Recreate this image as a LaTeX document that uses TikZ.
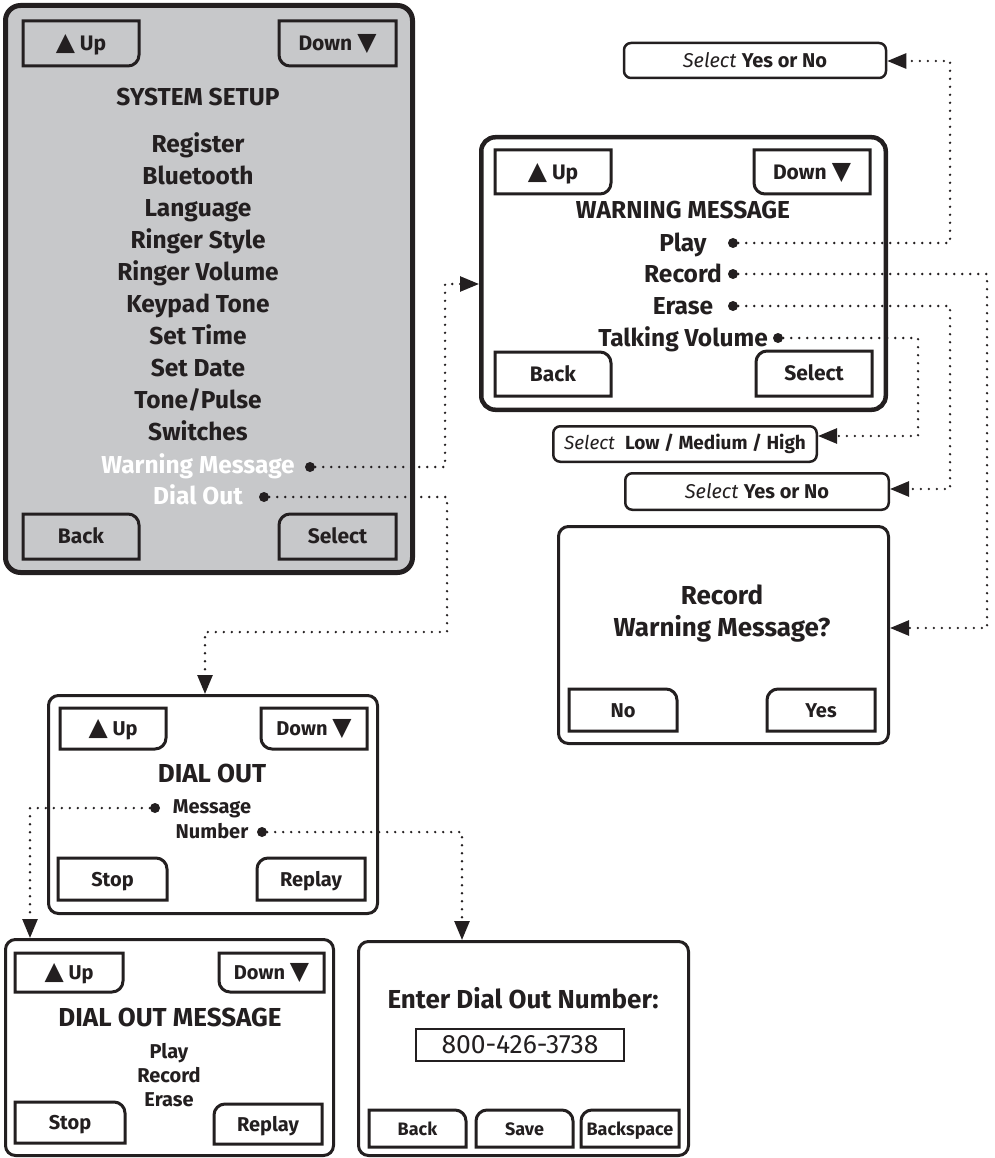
\documentclass[tikz,border=0pt]{standalone}
\usepackage{fontspec}
\setmainfont{Fira Sans}
\newfontfamily\symfont{DejaVu Sans}
\usetikzlibrary{arrows.meta,calc}
\definecolor{ink}{RGB}{35,31,32}
\definecolor{panelgray}{RGB}{199,200,202}
\newcommand\fsz[1]{\fontsize{#1}{#1}\selectfont}
\newcommand\upsym{{\symfont\fsz{25}▲}}
\newcommand\dnsym{{\symfont\fsz{25}▼}}
\def\rr{11}
% buttons: x1 y1 x2 y2 name text
\newcommand\btnBR[6]{\draw[btn] (#1,#2) -- (#3,#2) -- (#3,{#4-\rr}) .. controls (#3,{#4-0.45*\rr}) and ({#3-0.45*\rr},#4) .. ({#3-\rr},#4) -- (#1,#4) -- cycle;
  \node[btntxt] (#5) at ({(#1+#3)/2},{(#2+#4)/2}) {#6};}
\newcommand\btnBL[6]{\draw[btn] (#1,#2) -- (#3,#2) -- (#3,#4) -- ({#1+\rr},#4) .. controls ({#1+0.45*\rr},#4) and (#1,{#4-0.45*\rr}) .. (#1,{#4-\rr}) -- cycle;
  \node[btntxt] (#5) at ({(#1+#3)/2},{(#2+#4)/2}) {#6};}
\newcommand\btnTR[6]{\draw[btn] (#1,#4) -- (#1,#2) -- ({#3-\rr},#2) .. controls ({#3-0.45*\rr},#2) and (#3,{#2+0.45*\rr}) .. (#3,{#2+\rr}) -- (#3,#4) -- cycle;
  \node[btntxt] (#5) at ({(#1+#3)/2},{(#2+#4)/2}) {#6};}
\newcommand\btnTL[6]{\draw[btn] (#3,#4) -- (#3,#2) -- ({#1+\rr},#2) .. controls ({#1+0.45*\rr},#2) and (#1,{#2+0.45*\rr}) .. (#1,{#2+\rr}) -- (#1,#4) -- cycle;
  \node[btntxt] (#5) at ({(#1+#3)/2},{(#2+#4)/2}) {#6};}
\newcommand\btnTT[6]{\draw[btn] (#1,#4) -- (#1,{#2+\rr}) .. controls (#1,{#2+0.45*\rr}) and ({#1+0.45*\rr},#2) .. ({#1+\rr},#2) -- ({#3-\rr},#2) .. controls ({#3-0.45*\rr},#2) and (#3,{#2+0.45*\rr}) .. (#3,{#2+\rr}) -- (#3,#4) -- cycle;
  \node[btntxt] (#5) at ({(#1+#3)/2},{(#2+#4)/2}) {#6};}
\tikzset{
  panel/.style={draw=ink, line width=3pt, rounded corners=10pt, fill=white, inner sep=0pt},
  btn/.style={draw=ink, line width=3pt, line join=miter},
  btntxt/.style={inner sep=0pt, text height=14.5pt, text depth=0pt, text=ink, font=\bfseries\fsz{21}},
  lbl/.style={inner sep=0pt, text height=16.9pt, text depth=0pt, text=ink, font=\bfseries\fsz{24.5}},
  small/.style={lbl, text height=13.8pt, font=\bfseries\fsz{20}},
  big/.style={lbl, text height=17.9pt, font=\bfseries\fsz{26}},
  selbox/.style={draw=ink, line width=2.5pt, rounded corners=7pt, inner sep=0pt, text=ink, font=\fsz{20}},
  dotn/.style={circle, fill=ink, minimum size=10pt, inner sep=0pt},
  conn/.style={draw=ink, line width=2.6pt, line cap=round, dash pattern=on 0pt off 8pt,
    -{Triangle[length=19pt,width=15pt]}},
}
\begin{document}
\begin{tikzpicture}[x=1pt,y=-1pt]
\useasboundingbox (0,0) rectangle (994,1158);

% ---------- SYSTEM SETUP ----------
\node[panel, fill=panelgray, line width=5pt, rounded corners=15pt, minimum width=407, minimum height=567] (sys) at (209,289) {};
\btnBR{23}{21}{139}{66}{sysup}{\upsym\ Up}
\btnBL{279}{21}{396}{66}{sysdn}{Down \dnsym}
\btnTR{23}{514}{139}{559}{sysback}{Back}
\btnTL{279}{514}{396}{559}{syssel}{Select}
\node[lbl] (systitle) at (198,97) {SYSTEM SETUP};
\foreach \t/\yy/\n in {Register/144/s1, Bluetooth/176/s2, Language/208/s3, Ringer Style/240/s4,
  Ringer Volume/272/s5, Keypad Tone/304/s6, Set Time/336/s7, Set Date/368/s8,
  Tone\slash Pulse/400/s9, Switches/432/s10}
  \node[lbl] (\n) at (198,\yy) {\t};
\node[lbl, text=white] (swm) at (198,465) {Warning Message};
\node[lbl, text=white] (sdo) at (198,496) {Dial Out};
\node[dotn] (dwm) at (310,467) {};
\node[dotn] (ddo) at (264,497) {};

% ---------- WARNING MESSAGE ----------
\node[panel, line width=4.5pt, rounded corners=14pt, minimum width=404.5, minimum height=272.5] (wm) at (683.5,273.5) {};
\btnBR{495}{150}{611}{194}{wmup}{\upsym\ Up}
\btnBL{754}{150}{870}{194}{wmdn}{Down \dnsym}
\btnTR{495}{352}{611}{396}{wmback}{Back}
\btnTL{756}{351}{872}{396}{wmsel}{Select}
\node[lbl] (wmtitle) at (683,210) {WARNING MESSAGE};
\node[lbl] (wplay) at (683,243) {Play};
\node[lbl] (wrec) at (683,274) {Record};
\node[lbl] (wera) at (683,306) {Erase};
\node[lbl] (wtv) at (683,338) {Talking Volume};
\node[dotn] (dplay) at (733,243) {};
\node[dotn] (drec) at (733,274) {};
\node[dotn] (dera) at (733,306) {};
\node[dotn] (dtv) at (778,338) {};

% ---------- selection boxes ----------
\node[selbox, minimum width=262, minimum height=35] (sel1) at (755,60.5) {\textit{Select} \textbf{Yes or No}};
\node[selbox, font=\fsz{19}, minimum width=263.5, minimum height=35.5] (sel2) at (685,444) {\textit{Select}\ \ \textbf{Low / Medium / High}};
\node[selbox, minimum width=263.5, minimum height=36.5] (sel3) at (757,491.5) {\textit{Select} \textbf{Yes or No}};

% ---------- RECORD WARNING MESSAGE ----------
\node[panel, minimum width=330, minimum height=217] (rec) at (723.5,635) {};
\node[big] (rect1) at (722,596) {Record};
\node[big] (rect2) at (722,628) {Warning Message?};
\btnTR{569}{689}{677}{731}{recno}{\fsz{20}No}
\btnTL{767}{689}{875}{731}{recyes}{\fsz{20}Yes}

% ---------- DIAL OUT ----------
\node[panel, minimum width=329, minimum height=218] (do) at (213,804.5) {};
\btnBR{60}{708}{166}{749}{doup}{\fsz{20}\upsym\ Up}
\btnBL{261}{708}{367}{749}{dodn}{\fsz{20}Down \dnsym}
\btnTR{58}{858}{167}{900}{dostop}{\fsz{20}Stop}
\btnTL{257}{858}{365}{900}{doreplay}{\fsz{20}Replay}
\node[big] (dotitle) at (212,774) {DIAL OUT};
\node[small] (domsg) at (212,807) {Message};
\node[small] (donum) at (212,832) {Number};
\node[dotn] (dmsg) at (155,808) {};
\node[dotn] (dnum) at (262,832) {};

% ---------- DIAL OUT MESSAGE ----------
\node[panel, minimum width=328, minimum height=216] (dom) at (169.5,1047.5) {};
\btnBR{15}{953}{123}{992}{domup}{\fsz{20}\upsym\ Up}
\btnBL{219}{953}{324}{992}{domdn}{\fsz{20}Down \dnsym}
\btnTR{15}{1102}{125}{1143}{domstop}{\fsz{20}Stop}
\btnTL{214}{1104}{322}{1144}{domreplay}{\fsz{20}Replay}
\node[big] (domtitle) at (170,1018) {DIAL OUT MESSAGE};
\node[small] (domplay) at (169,1052) {Play};
\node[small] (domrec) at (169,1076) {Record};
\node[small] (domera) at (169,1100) {Erase};

% ---------- ENTER DIAL OUT NUMBER ----------
\node[panel, minimum width=330, minimum height=214] (edn) at (523.5,1048.5) {};
\node[big] (edntitle) at (523,1000) {Enter Dial Out Number:};
\node[draw=ink, line width=2pt, minimum width=208, minimum height=32, inner sep=0pt, text=ink, font=\fsz{26.5}] (ednnum) at (520,1045) {800-426-3738};
\btnTR{369}{1110}{466}{1147}{ednback}{\fsz{18}Back}
\btnTT{476}{1110}{573}{1147}{ednsave}{\fsz{18}Save}
\btnTL{581}{1110}{679}{1147}{ednbs}{\fsz{18}Backspace}

% ---------- connectors ----------
\coordinate (k1) at (445,467); \coordinate (k2) at (445,284);
\draw[conn] (dwm) -- (k1) -- (k2) -- (wm.west |- k2);
\coordinate (k3) at (447,497); \coordinate (k4) at (447,632); \coordinate (k5) at (205,632);
\draw[conn] (ddo) -- (k3) -- (k4) -- (k5) -- (do.north -| k5);
\coordinate (k6) at (950,243); \coordinate (k7) at (950,61);
\draw[conn] (dplay) -- (k6) -- (k7) -- (sel1.east |- k7);
\coordinate (k8) at (987,274); \coordinate (k9) at (987,628);
\draw[conn] (drec) -- (k8) -- (k9) -- (rec.east |- k9);
\coordinate (k10) at (950,306); \coordinate (k11) at (950,489);
\draw[conn] (dera) -- (k10) -- (k11) -- (sel3.east |- k11);
\coordinate (k12) at (918,338); \coordinate (k13) at (918,436);
\draw[conn] (dtv) -- (k12) -- (k13) -- (sel2.east |- k13);
\coordinate (k14) at (30,808);
\draw[conn] (dmsg) -- (k14) -- (dom.north -| k14);
\coordinate (k15) at (462,832);
\draw[conn] (dnum) -- (k15) -- (edn.north -| k15);
\end{tikzpicture}
\end{document}
